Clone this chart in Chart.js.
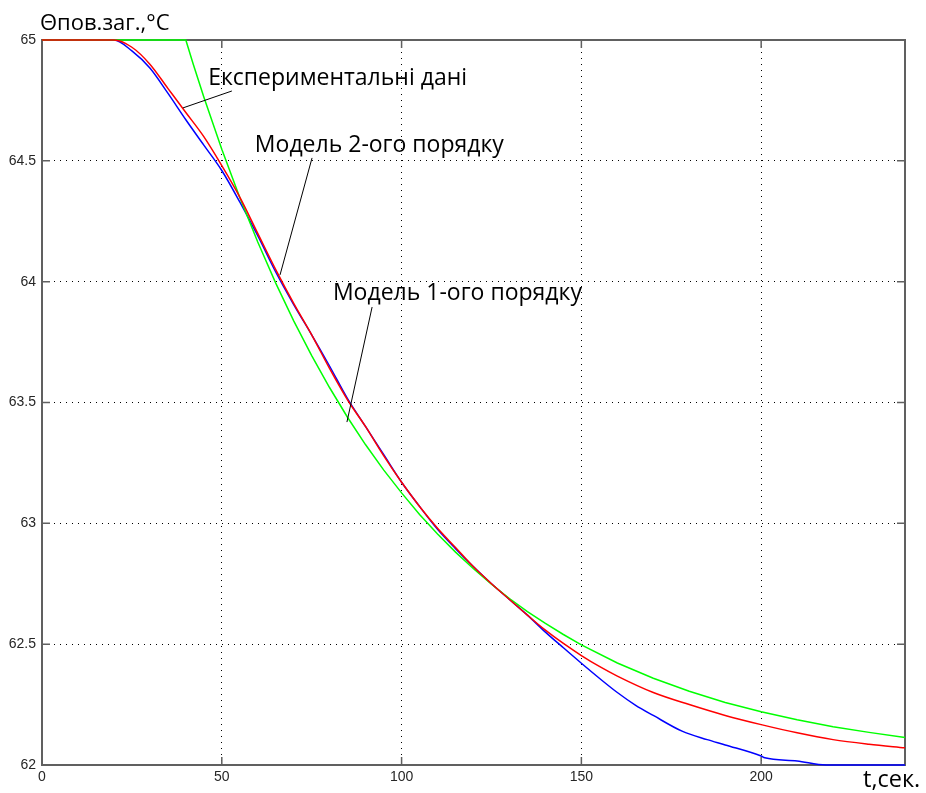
<!DOCTYPE html>
<html>
<head>
<meta charset="utf-8">
<script src="https://cdn.jsdelivr.net/npm/chart.js@4.4.0/dist/chart.umd.min.js"></script>
<style>
  html, body { margin: 0; padding: 0; background: #fff; }
  #wrap { width: 926px; height: 793px; }
</style>
</head>
<body>
<div id="wrap"><canvas id="myChart" width="926" height="793"></canvas></div>
<script>
// experimental data (blue)
const expTime = [0, 20, 25, 30, 35, 40, 45, 50, 55, 60, 65, 70, 75, 80, 85, 90, 95, 100, 105, 110,
  115, 120, 125, 130, 135, 140, 145, 150, 155, 160, 165, 170, 178, 185, 190, 200, 201, 210, 218, 240];
const expTemp = [65, 65, 64.955, 64.884, 64.78, 64.67, 64.565, 64.46, 64.33, 64.19, 64.04, 63.905, 63.78,
  63.65, 63.515, 63.40, 63.285, 63.17, 63.07, 62.975, 62.895, 62.82, 62.75, 62.685, 62.62, 62.55, 62.485,
  62.421, 62.359, 62.30, 62.248, 62.205, 62.14, 62.105, 62.083, 62.037, 62.03, 62.017, 62.0, 62.0];

// 2nd order model (red)
const m2Time = [0, 20, 25, 30, 35, 40, 45, 50, 55, 60, 65, 70, 75, 80, 85, 90, 95, 100, 105, 110,
  115, 120, 125, 130, 135, 140, 145, 150, 155, 160, 170, 180, 190, 200, 210, 220, 230, 240];
const m2Temp = [65, 65, 64.97, 64.90, 64.80, 64.70, 64.60, 64.48, 64.35, 64.20, 64.05, 63.91, 63.78,
  63.64, 63.51, 63.40, 63.28, 63.17, 63.07, 62.98, 62.90, 62.82, 62.75, 62.685, 62.62, 62.558, 62.503,
  62.453, 62.408, 62.368, 62.30, 62.25, 62.205, 62.167, 62.133, 62.105, 62.086, 62.071];

// 1st order model (green)
const m1Time = [0, 40, 42, 45, 50, 55, 60, 65, 70, 75, 80, 85, 90, 95, 100, 105, 110, 115, 120, 125,
  130, 135, 140, 145, 150, 160, 170, 180, 190, 200, 210, 220, 230, 240];
const m1Temp = [65, 65, 64.903, 64.764, 64.548, 64.348, 64.164, 63.994, 63.838, 63.694, 63.561, 63.438,
  63.325, 63.221, 63.126, 63.037, 62.956, 62.881, 62.812, 62.748, 62.689, 62.635, 62.586, 62.54, 62.497,
  62.422, 62.359, 62.305, 62.259, 62.22, 62.187, 62.158, 62.135, 62.114];

const xTicks = [0, 50, 100, 150, 200];
const yTicks = [62, 62.5, 63, 63.5, 64, 64.5, 65];

const pts = (xs, ys) => xs.map((x, i) => ({x: x, y: ys[i]}));

// text labels with leader lines, placed in data units
const notes = [
  {text: 'Експериментальні дані', at: [46.2, 64.814], from: [52.8, 64.789], to: [39.2, 64.719]},
  {text: 'Модель 2-ого порядку', at: [59.2, 64.538], from: [75.1, 64.512], to: [66.2, 64.028]},
  {text: 'Модель 1-ого порядку', at: [80.9, 63.924], from: [91.8, 63.895], to: [84.8, 63.419]}
];

const framePlugin = {
  id: 'frame',
  beforeDatasetsDraw(chart) {
    const {ctx, chartArea: a} = chart;
    const x = chart.scales.x, y = chart.scales.y;
    ctx.save();
    ctx.strokeStyle = '#606060';
    ctx.lineWidth = 2;
    ctx.strokeRect(a.left, a.top, a.right - a.left, a.bottom - a.top);
    ctx.lineWidth = 1.5;
    ctx.beginPath();
    x.ticks.forEach(t => {
      const px = x.getPixelForValue(t.value);
      ctx.moveTo(px, a.bottom); ctx.lineTo(px, a.bottom - 8);
      ctx.moveTo(px, a.top); ctx.lineTo(px, a.top + 8);
    });
    y.ticks.forEach(t => {
      const py = y.getPixelForValue(t.value);
      ctx.moveTo(a.left, py); ctx.lineTo(a.left + 8, py);
      ctx.moveTo(a.right, py); ctx.lineTo(a.right - 8, py);
    });
    ctx.stroke();
    ctx.restore();
  },
  afterDatasetsDraw(chart) {
    const {ctx, chartArea: a} = chart;
    const x = chart.scales.x, y = chart.scales.y;
    ctx.save();
    ctx.strokeStyle = '#000';
    ctx.lineWidth = 1;
    ctx.fillStyle = '#000';
    ctx.textBaseline = 'alphabetic';
    ctx.textAlign = 'left';
    ctx.font = '23px "Open Sans"';
    notes.forEach(n => {
      ctx.fillText(n.text, x.getPixelForValue(n.at[0]), y.getPixelForValue(n.at[1]));
      ctx.beginPath();
      ctx.moveTo(x.getPixelForValue(n.from[0]), y.getPixelForValue(n.from[1]));
      ctx.lineTo(x.getPixelForValue(n.to[0]), y.getPixelForValue(n.to[1]));
      ctx.stroke();
    });
    ctx.font = '22px "Open Sans"';
    ctx.fillText('Θпов.заг.,°C', a.left - 2, a.top - 10);
    ctx.font = '23.5px "Open Sans"';
    ctx.fillText('t,сек.', a.right - 42, a.bottom + 22);
    ctx.restore();
  }
};

const tickFont = {family: 'Arial, "Liberation Sans"', size: 14};

new Chart(document.getElementById('myChart'), {
  type: 'line',
  data: {
    datasets: [
      {label: 'Модель 2-ого порядку', data: pts(m2Time, m2Temp), borderColor: '#ff0000'},
      {label: 'Модель 1-ого порядку', data: pts(m1Time, m1Temp), borderColor: '#00ff00',
        cubicInterpolationMode: 'default', tension: 0},
      {label: 'Експериментальні дані', data: pts(expTime, expTemp), borderColor: '#0000ff'}
    ]
  },
  options: {
    responsive: false,
    animation: false,
    layout: {padding: {top: 40, right: 21, left: 0, bottom: 0}},
    elements: {
      line: {borderWidth: 1.5, cubicInterpolationMode: 'monotone', fill: false},
      point: {radius: 0, hoverRadius: 0}
    },
    datasets: {line: {clip: false}},
    plugins: {legend: {display: false}, tooltip: {enabled: false}},
    scales: {
      x: {
        type: 'linear', min: 0, max: 240,
        afterBuildTicks: s => { s.ticks = xTicks.map(v => ({value: v})); },
        afterFit: s => { s.height = 28; },
        ticks: {padding: 4, color: '#262626', font: tickFont, maxRotation: 0, includeBounds: false,
          callback: v => String(v)},
        grid: {color: '#000', lineWidth: 1, drawTicks: false},
        border: {display: false, dash: [1, 5]}
      },
      y: {
        type: 'linear', min: 62, max: 65,
        afterBuildTicks: s => { s.ticks = yTicks.map(v => ({value: v})); },
        afterFit: s => { s.width = 42; },
        ticks: {padding: 6, color: '#262626', font: tickFont, callback: v => String(v)},
        grid: {color: '#000', lineWidth: 1, drawTicks: false},
        border: {display: false, dash: [1, 5]}
      }
    }
  },
  plugins: [framePlugin]
});
</script>
</body>
</html>
